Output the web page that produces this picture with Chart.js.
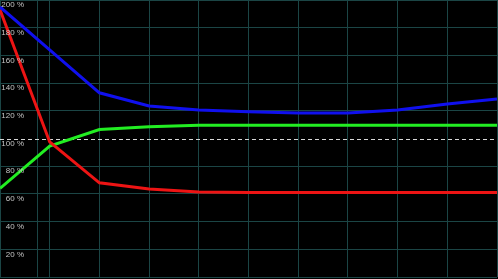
<!DOCTYPE html>
<html>
<head>
<meta charset="utf-8">
<script src="https://cdn.jsdelivr.net/npm/chart.js@4/dist/chart.umd.min.js"></script>
<style>
  html, body { margin: 0; padding: 0; background: #000; }
  #wrap { width: 498px; height: 279px; }
</style>
</head>
<body>
<div id="wrap"><canvas id="lineChart"></canvas></div>
<script>
// sample steps along the x axis
const steps = [0, 1, 2, 3, 4, 5, 6, 7, 8, 9, 10];

// percent values per series
const blueValues  = [195, 164, 133, 123.5, 120.6, 119.4, 118.4, 118.4, 120.6, 124.9, 128.5];
const redValues   = [193, 97.5, 68, 63.5, 61.4, 61.1, 61.1, 61.1, 61.1, 61.1, 61.1];
const greenValues = [64, 94.5, 106.5, 108.5, 109.5, 109.5, 109.5, 109.5, 109.5, 109.5, 109.5];

const yTicks = [0, 20, 40, 60, 80, 100, 120, 140, 160, 180, 200];
const refLevel = 100;

function toPoints(values) {
    return steps.map((s, i) => ({ x: s, y: values[i] }));
}

// dashed reference line at 100 % and the percent labels inside the plot
const overlayPlugin = {
    id: "overlay",
    beforeDatasetsDraw(chart) {
        const { ctx, chartArea, scales } = chart;
        const y = Math.round(scales.y.getPixelForValue(refLevel)) + 0.5;
        ctx.save();
        ctx.strokeStyle = "#d8d8d8";
        ctx.lineWidth = 1;
        ctx.setLineDash([4, 3]);
        ctx.beginPath();
        ctx.moveTo(chartArea.left, y);
        ctx.lineTo(chartArea.right, y);
        ctx.stroke();
        ctx.restore();
    },
    afterDatasetsDraw(chart) {
        const { ctx, scales } = chart;
        ctx.save();
        ctx.fillStyle = "#c4c4c4";
        ctx.font = "8px 'Liberation Sans'";
        ctx.textAlign = "right";
        ctx.textBaseline = "middle";
        yTicks.forEach(v => {
            if (v === 0) return;
            ctx.fillText(v + " %", 24, scales.y.getPixelForValue(v) + 5);
        });
        ctx.restore();
    }
};

const gridColor = "#1b4545";

new Chart(document.getElementById("lineChart").getContext("2d"), {
    type: "line",
    data: {
        datasets: [
            { label: "blue", data: toPoints(blueValues), borderColor: "#1010ee", borderWidth: 3 },
            { label: "red", data: toPoints(redValues), borderColor: "#ee1414", borderWidth: 3 },
            { label: "green", data: toPoints(greenValues), borderColor: "#22ee22", borderWidth: 3 }
        ]
    },
    options: {
        responsive: true,
        maintainAspectRatio: false,
        animation: false,
        layout: { padding: { left: 0, right: 1, top: 0, bottom: 2 } },
        elements: { point: { radius: 0 }, line: { tension: 0 } },
        plugins: { legend: { display: false }, tooltip: { enabled: false } },
        scales: {
            x: {
                type: "linear",
                min: steps[0],
                max: steps[steps.length - 1],
                afterBuildTicks(scale) {
                    const ticks = steps.map(v => ({ value: v }));
                    ticks.splice(1, 0, { value: 0.75 });
                    scale.ticks = ticks;
                },
                ticks: { display: false },
                grid: { color: gridColor, drawTicks: false },
                border: { display: false }
            },
            y: {
                min: 0,
                max: 200,
                afterBuildTicks(scale) {
                    scale.ticks = yTicks.map(v => ({ value: v }));
                },
                ticks: { display: false },
                grid: {
                    drawTicks: false,
                    color: ctx => (ctx.tick && ctx.tick.value === refLevel ? "rgba(0,0,0,0)" : gridColor)
                },
                border: { display: false }
            }
        }
    },
    plugins: [overlayPlugin]
});
</script>
</body>
</html>
